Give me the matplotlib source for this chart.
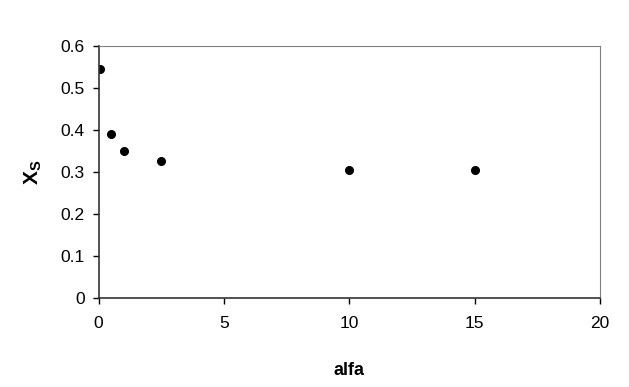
import matplotlib
matplotlib.use('Agg')
import matplotlib.pyplot as plt

plt.rcParams['font.family'] = ['Liberation Sans', 'DejaVu Sans']
plt.rcParams['mathtext.fontset'] = 'custom'
plt.rcParams['mathtext.rm'] = 'Liberation Sans'
plt.rcParams['mathtext.bf'] = 'Liberation Sans:bold'

# data
alfa = [0.05, 0.5, 1, 2.5, 10, 15]
xs = [0.545, 0.391, 0.349, 0.327, 0.305, 0.305]

fig = plt.figure(figsize=(6.29, 3.87), dpi=100)
ax = fig.add_axes([0.1566, 0.23, 0.7974, 0.651])

ax.plot(alfa, xs, 'o', color='black', markersize=5.5)

ax.set_xlim(0, 20)
ax.set_ylim(0, 0.6)
ax.set_xticks([0, 5, 10, 15, 20])
ax.set_yticks([0, 0.1, 0.2, 0.3, 0.4, 0.5, 0.6])
ax.set_yticklabels(['0', '0.1', '0.2', '0.3', '0.4', '0.5', '0.6'])
ax.tick_params(direction='out', length=4, width=1, labelsize=12.5, pad=6)
ax.tick_params(axis='x', pad=9)

for s in ['top', 'right']:
    ax.spines[s].set_color('#808080')
for s in ['left', 'bottom']:
    ax.spines[s].set_color('#333333')
    ax.spines[s].set_linewidth(1.2)

ax.set_xlabel('alfa', fontsize=13, fontweight='bold', labelpad=22)
ax.set_ylabel(r'$\mathbf{X_S}$', fontsize=15, labelpad=12)

fig.savefig('out.png', dpi=100)
